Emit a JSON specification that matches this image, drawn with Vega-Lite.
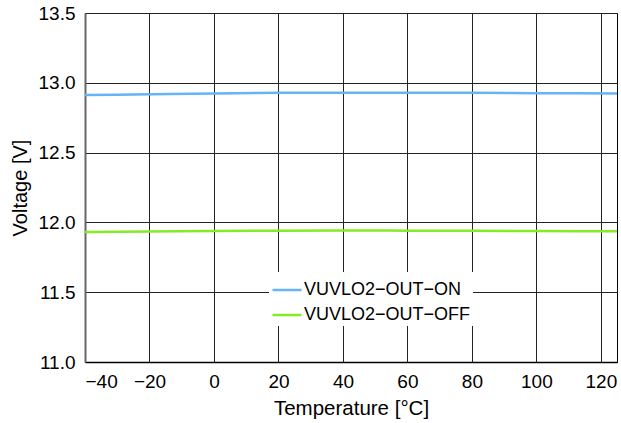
{
  "$schema": "https://vega.github.io/schema/vega-lite/v6.json",
  "width": 532,
  "height": 349,
  "autosize": {"type": "none"},
  "padding": {"left": 85, "top": 13, "right": 4, "bottom": 61},
  "background": "white",
  "config": {
    "font": "Liberation Sans",
    "view": {"stroke": "#000", "strokeWidth": 1}
  },
  "data": {
    "values": [
      {"t": -40, "v": 12.912, "s": "VUVLO2−OUT−ON"},
      {"t": -20, "v": 12.918, "s": "VUVLO2−OUT−ON"},
      {"t": 0, "v": 12.924, "s": "VUVLO2−OUT−ON"},
      {"t": 20, "v": 12.928, "s": "VUVLO2−OUT−ON"},
      {"t": 40, "v": 12.929, "s": "VUVLO2−OUT−ON"},
      {"t": 60, "v": 12.929, "s": "VUVLO2−OUT−ON"},
      {"t": 80, "v": 12.928, "s": "VUVLO2−OUT−ON"},
      {"t": 100, "v": 12.926, "s": "VUVLO2−OUT−ON"},
      {"t": 125, "v": 12.924, "s": "VUVLO2−OUT−ON"},
      {"t": -40, "v": 11.932, "s": "VUVLO2−OUT−OFF"},
      {"t": -20, "v": 11.935, "s": "VUVLO2−OUT−OFF"},
      {"t": 0, "v": 11.939, "s": "VUVLO2−OUT−OFF"},
      {"t": 20, "v": 11.941, "s": "VUVLO2−OUT−OFF"},
      {"t": 40, "v": 11.942, "s": "VUVLO2−OUT−OFF"},
      {"t": 60, "v": 11.941, "s": "VUVLO2−OUT−OFF"},
      {"t": 80, "v": 11.940, "s": "VUVLO2−OUT−OFF"},
      {"t": 100, "v": 11.938, "s": "VUVLO2−OUT−OFF"},
      {"t": 125, "v": 11.936, "s": "VUVLO2−OUT−OFF"}
    ]
  },
  "mark": {"type": "line", "strokeWidth": 2.5, "interpolate": "monotone"},
  "encoding": {
    "x": {
      "field": "t", "type": "quantitative",
      "scale": {"domain": [-40, 125], "nice": false, "zero": false},
      "axis": {
        "title": "Temperature [°C]",
        "values": [-40, -20, 0, 20, 40, 60, 80, 100, 120],
        "ticks": false,
        "grid": true, "gridColor": "#222", "gridOpacity": 1, "gridWidth": 1,
        "domainColor": "#000", "domainWidth": 1.5,
        "labelFontSize": 19, "labelColor": "#000", "labelPadding": 10,
        "titleFontSize": 20.5, "titleFontWeight": "normal", "titleColor": "#000", "titlePadding": 7
      }
    },
    "y": {
      "field": "v", "type": "quantitative",
      "scale": {"domain": [11, 13.5], "nice": false, "zero": false},
      "axis": {
        "title": "Voltage [V]",
        "values": [11, 11.5, 12, 12.5, 13, 13.5],
        "format": ".1f",
        "ticks": false,
        "grid": true, "gridColor": "#222", "gridOpacity": 1, "gridWidth": 1,
        "domainColor": "#666", "domainWidth": 2,
        "labelFontSize": 19, "labelColor": "#000", "labelPadding": 10,
        "titleFontSize": 20, "titleFontWeight": "normal", "titleColor": "#000", "titlePadding": 8
      }
    },
    "color": {
      "field": "s", "type": "nominal",
      "scale": {"domain": ["VUVLO2−OUT−ON", "VUVLO2−OUT−OFF"], "range": ["#66b4f7", "#84ec22"]},
      "legend": {
        "title": null,
        "orient": "none",
        "legendX": 184,
        "legendY": 259,
        "fillColor": "white",
        "strokeColor": null,
        "padding": 2,
        "symbolType": "stroke",
        "symbolSize": 840,
        "symbolStrokeWidth": 2.5,
        "labelFontSize": 18,
        "labelLimit": 400,
        "labelColor": "#000",
        "labelOffset": 1,
        "rowPadding": -5
      }
    }
  }
}
